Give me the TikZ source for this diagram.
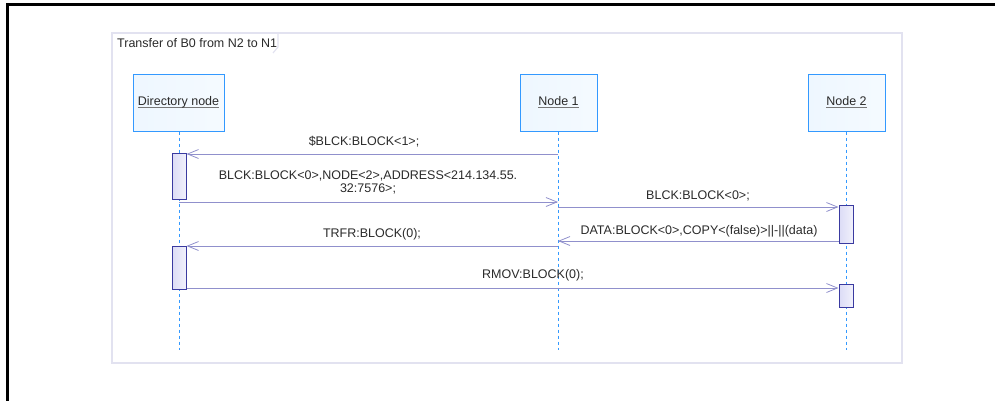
\documentclass[tikz,border=0pt]{standalone}
\usepackage{fontspec}
\setmainfont{Liberation Sans}
\usetikzlibrary{arrows.meta}
\definecolor{boxblue}{HTML}{3399FF}
\definecolor{boxfill}{HTML}{EEF7FF}
\definecolor{actline}{HTML}{3A3AA0}
\definecolor{actfill}{HTML}{DCDCF6}
\definecolor{msgcol}{HTML}{9090CC}
\definecolor{framecol}{HTML}{E2E2F0}
\definecolor{txt}{HTML}{2A2A2A}
\definecolor{ulcol}{HTML}{777777}
\tikzset{
  lifebox/.style={draw=boxblue, line width=1pt, left color=boxfill, right color=boxfill!60!white, minimum height=57pt, inner sep=0pt, text=txt, font=\fontsize{12.5}{14}\selectfont},
  lifeline/.style={boxblue, line width=0.9pt, dash pattern=on 3pt off 3pt},
  actbox/.style={draw=actline, line width=1pt, left color=actfill, right color=actfill!40!white, minimum width=14pt, inner sep=0pt},
  msg/.style={msgcol, line width=1pt, -{Straight Barb[length=11pt,width=9pt,line width=0.8pt]}},
  lbl/.style={text=txt, font=\fontsize{12.5}{14}\selectfont, inner sep=0pt, align=center},
}
\newcommand{\myul}[1]{\setbox0\hbox{#1}\rlap{\textcolor{ulcol}{\rule[-2.8pt]{\wd0}{1.3pt}}}\box0}
\begin{document}
\begin{tikzpicture}[x=1pt,y=-1pt]
\useasboundingbox (0,0) rectangle (995,400);
% outer black border
\draw[line width=3pt, line cap=rect] (995,4) -- (7,4) -- (7,402);
% frame
\draw[framecol, line width=1.5pt] (112,33) rectangle (902,363);
\draw[framecol, line width=1.2pt] (278,33) -- (278,47) -- (273,53);
\node[lbl, anchor=west] (title) at (117,43) {Transfer of B0 from N2 to N1};
% lifeline heads
\node[lifebox, minimum width=91pt] (dir) at (178.5,102.5) {\myul{Directory node}};
\node[lifebox, minimum width=77pt] (n1) at (558.5,102.5) {\myul{Node 1}};
\node[lifebox, minimum width=77pt] (n2) at (846.5,102.5) {\myul{Node 2}};
% lifeline ends
\coordinate (dirE) at (179,350);
\coordinate (n1E) at (558,350);
\coordinate (n2E) at (846,350);
\draw[lifeline] (dir.south -| dirE) -- (dirE);
\draw[lifeline] (n1.south -| n1E) -- (n1E);
\draw[lifeline] (n2.south -| n2E) -- (n2E);
% activations
\node[actbox, minimum height=46pt] (a1) at (179,176) {};
\node[actbox, minimum height=43pt] (a2) at (179,267.5) {};
\node[actbox, minimum height=38pt] (a3) at (846,224) {};
\node[actbox, minimum height=23pt] (a4) at (846,295.5) {};
% message end points
\coordinate (m1s) at (558,154);
\coordinate (m2s) at (179,202);
\coordinate (m2e) at (558,202);
\coordinate (m3s) at (558,207);
\coordinate (m4e) at (558,241);
\coordinate (m5s) at (558,246);
% messages
\draw[msg] (m1s) -- (m1s -| a1.east);
\draw[msg] (m2s) -- (m2e);
\draw[msg] (m3s) -- (m3s -| a3.west);
\draw[msg] (m4e -| a3.west) -- (m4e);
\draw[msg] (m5s) -- (m5s -| a2.east);
\draw[msg] (a2.east |- 0,288) -- (a4.west |- 0,288);
% labels
\node[lbl] (l1) at (364,142) {\$BLCK:BLOCK<1>;};
\node[lbl] (l2) at (368,182) {BLCK:BLOCK<0>,NODE<2>,ADDRESS<214.134.55.\\[-1pt]32:7576>;};
\node[lbl] (l3) at (698,196) {BLCK:BLOCK<0>;};
\node[lbl] (l4) at (699,231) {DATA:BLOCK<0>,COPY<(false)>||-||(data)};
\node[lbl] (l5) at (372,234) {TRFR:BLOCK(0);};
\node[lbl] (l6) at (533,275) {RMOV:BLOCK(0);};
\end{tikzpicture}
\end{document}
